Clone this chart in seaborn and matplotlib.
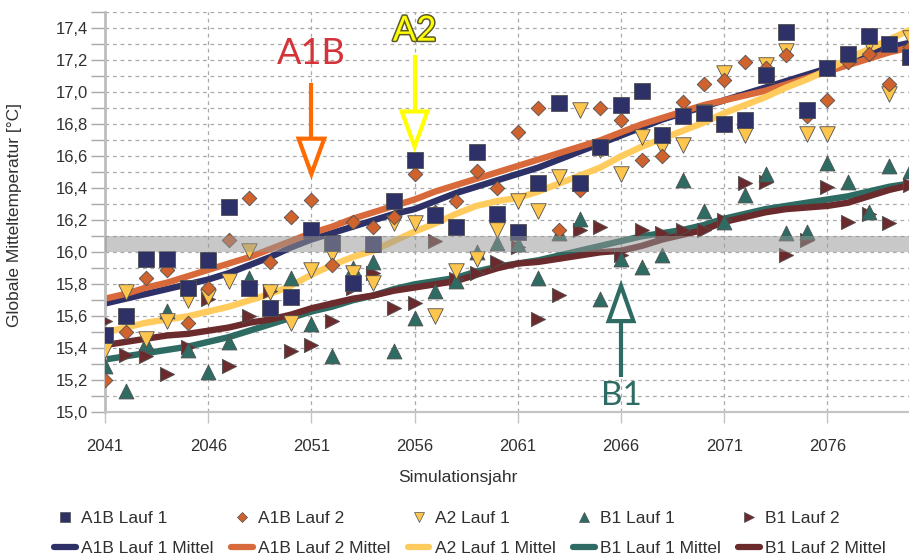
import numpy as np
import matplotlib
matplotlib.use("Agg")
import matplotlib.pyplot as plt
import matplotlib.patheffects as pe
from matplotlib.lines import Line2D
from matplotlib.patches import Polygon
from matplotlib.ticker import FixedLocator, FuncFormatter
import seaborn as sns

# ---- data ---------------------------------------------------------------
years = list(range(2041, 2081))

a1b_lauf1 = [15.48, 15.60, 15.96, 15.96, 15.78, 15.95, 16.28, 15.78, 15.65, 15.72,
             16.14, 16.06, 15.81, 16.05, 16.32, 16.58, 16.23, 16.16, 16.63, 16.24,
             16.13, 16.43, 16.93, 16.43, 16.66, 16.92, 17.01, 16.73, 16.85, 16.87,
             16.80, 16.83, 17.11, 17.38, 16.89, 17.15, 17.24, 17.35, 17.30, 17.22]
a1b_lauf2 = [15.20, 15.50, 15.84, 15.89, 15.56, 15.78, 16.08, 16.34, 15.94, 16.22,
             16.33, 15.92, 16.19, 16.16, 16.22, 16.49, 16.25, 16.32, 16.51, 16.40,
             16.75, 16.90, 16.14, 16.39, 16.90, 16.83, 16.58, 16.60, 16.94, 17.05,
             17.08, 17.19, 17.15, 17.23, 16.85, 16.95, 17.19, 17.24, 17.05, 17.28]
a2_lauf1 = [15.39, 15.75, 15.46, 15.57, 15.70, 15.72, 15.82, 16.01, 15.75, 15.56,
            15.89, 15.99, 15.87, 15.81, 16.18, 16.18, 15.60, 15.88, 15.96, 16.14,
            16.32, 16.26, 16.47, 16.89, 16.64, 16.49, 16.72, 16.66, 16.67, 16.88,
            17.12, 16.73, 17.17, 17.26, 16.74, 16.74, 17.20, 17.30, 16.99, 17.34]
b1_lauf1 = [15.29, 15.13, 15.43, 15.63, 15.39, 15.25, 15.44, 15.84, 15.66, 15.84,
            15.55, 15.35, 15.90, 15.94, 15.38, 15.59, 15.76, 15.82, 16.00, 16.06,
            16.05, 15.84, 16.12, 16.21, 15.71, 15.96, 15.91, 15.98, 16.45, 16.26,
            16.19, 16.36, 16.49, 16.12, 16.13, 16.56, 16.44, 16.25, 16.54, 16.51]
b1_lauf2 = [15.57, 15.36, 15.35, 15.24, 15.41, 15.71, 15.29, 15.60, 15.76, 15.38,
            15.42, 15.57, 15.78, 15.87, 15.65, 15.68, 16.07, 15.83, 15.87, 15.94,
            16.03, 15.58, 15.73, 16.14, 16.16, 15.98, 16.14, 16.12, 16.14, 16.14,
            16.20, 16.43, 16.44, 15.98, 16.08, 16.41, 16.19, 16.24, 16.18, 16.42]

a1b_lauf1_mittel = [15.68, 15.71, 15.74, 15.77, 15.80, 15.83, 15.87, 15.92, 15.97, 16.03,
                    16.08, 16.12, 16.16, 16.20, 16.24, 16.27, 16.32, 16.37, 16.41, 16.45,
                    16.49, 16.53, 16.58, 16.63, 16.68, 16.73, 16.78, 16.83, 16.87, 16.91,
                    16.95, 16.99, 17.03, 17.07, 17.11, 17.15, 17.20, 17.24, 17.28, 17.31]
a1b_lauf2_mittel = [15.71, 15.74, 15.78, 15.81, 15.85, 15.89, 15.93, 15.97, 16.02, 16.07,
                    16.12, 16.16, 16.21, 16.25, 16.29, 16.33, 16.38, 16.42, 16.46, 16.50,
                    16.54, 16.58, 16.62, 16.66, 16.70, 16.75, 16.80, 16.84, 16.88, 16.92,
                    16.95, 16.98, 17.01, 17.05, 17.09, 17.13, 17.17, 17.21, 17.25, 17.28]
a2_lauf1_mittel = [15.50, 15.53, 15.56, 15.58, 15.60, 15.63, 15.66, 15.70, 15.74, 15.79,
                   15.86, 15.92, 15.97, 16.01, 16.07, 16.13, 16.18, 16.24, 16.29, 16.32,
                   16.34, 16.38, 16.43, 16.48, 16.53, 16.60, 16.66, 16.71, 16.76, 16.81,
                   16.87, 16.92, 16.97, 17.03, 17.08, 17.14, 17.21, 17.27, 17.33, 17.39]
b1_lauf1_mittel = [15.33, 15.35, 15.37, 15.39, 15.41, 15.44, 15.47, 15.51, 15.55, 15.59,
                   15.63, 15.66, 15.70, 15.73, 15.77, 15.80, 15.82, 15.84, 15.88, 15.91,
                   15.93, 15.95, 15.98, 16.01, 16.04, 16.07, 16.10, 16.12, 16.14, 16.17,
                   16.21, 16.24, 16.27, 16.29, 16.31, 16.33, 16.35, 16.38, 16.41, 16.43]
b1_lauf2_mittel = [15.42, 15.44, 15.46, 15.48, 15.49, 15.51, 15.53, 15.56, 15.58, 15.61,
                   15.65, 15.68, 15.71, 15.73, 15.76, 15.78, 15.80, 15.82, 15.86, 15.90,
                   15.93, 15.94, 15.96, 15.98, 16.00, 16.01, 16.04, 16.08, 16.11, 16.14,
                   16.19, 16.22, 16.25, 16.27, 16.28, 16.29, 16.31, 16.35, 16.39, 16.42]

x_ticks = [2041, 2046, 2051, 2056, 2061, 2066, 2071, 2076]
band_range = (16.0, 16.1)

# ---- styling ------------------------------------------------------------
sns.set_theme(style="white")
plt.rcParams["font.family"] = ["Liberation Sans", "DejaVu Sans"]

C_NAVY = "#2E3068"
C_ORANGE = "#D0622E"
C_ORANGE_LINE = "#D8693A"
C_YELLOW = "#FFC64E"
C_YELLOW_LINE = "#FFCB5C"
C_TEAL = "#2D6B63"
C_MAROON = "#6B2A2C"
EDGE = "#505050"

fig = plt.figure(figsize=(9.09, 5.56), dpi=100)
ax = fig.add_axes([105 / 909, 143.7 / 556, 805 / 909, 400 / 556])

# smoothed means
mittel = [
    (a1b_lauf1_mittel, C_NAVY, "A1B Lauf 1 Mittel"),
    (a1b_lauf2_mittel, C_ORANGE_LINE, "A1B Lauf 2 Mittel"),
    (a2_lauf1_mittel, C_YELLOW_LINE, "A2 Lauf 1 Mittel"),
    (b1_lauf1_mittel, C_TEAL, "B1 Lauf 1 Mittel"),
    (b1_lauf2_mittel, C_MAROON, "B1 Lauf 2 Mittel"),
]
draw_order = [4, 3, 2, 1, 0]
for i in draw_order:
    vals, col, _ = mittel[i]
    sns.lineplot(x=years, y=vals, color=col, lw=4.6, ax=ax, zorder=2 + 0.01 * i,
                 legend=False, solid_capstyle="butt")

# yearly values of the individual runs
runs = [
    (a1b_lauf1, "s", 130, C_NAVY, "A1B Lauf 1"),
    (a1b_lauf2, "D", 55, C_ORANGE, "A1B Lauf 2"),
    (a2_lauf1, "v", 125, C_YELLOW, "A2 Lauf 1"),
    (b1_lauf1, "^", 115, C_TEAL, "B1 Lauf 1"),
    (b1_lauf2, ">", 105, C_MAROON, "B1 Lauf 2"),
]
for k, (vals, mk, sz, col, _) in enumerate(runs):
    sns.scatterplot(x=years, y=vals, marker=mk, s=sz, color=col, edgecolor=EDGE,
                    linewidth=0.6, ax=ax, zorder=3 + 0.01 * (4 - k), legend=False)

# translucent reference band
ax.axhspan(band_range[0], band_range[1], color="#969696", alpha=0.52, lw=0, zorder=6)

# ---- axes ---------------------------------------------------------------
ax.set_xlim(2041, 2080)
ax.set_ylim(15.0, 17.5)

y_all = [round(15.0 + 0.1 * i, 1) for i in range(26)]
ax.yaxis.set_major_locator(FixedLocator(y_all))
ax.yaxis.set_major_formatter(FuncFormatter(
    lambda v, p: (f"{v:.1f}".replace(".", ",") if round(v * 10) % 2 == 0 else "")))
ax.set_xticks(x_ticks)
ax.set_xticklabels([str(t) for t in x_ticks])

grid_kw = dict(color="#A9A9A9", linestyle=(0, (3, 3)), linewidth=0.9)
ax.grid(True, axis="both", **grid_kw)
ax.set_axisbelow(True)

for s in ["top", "right"]:
    ax.spines[s].set_visible(False)
ax.spines["left"].set_color("#BDBDBD")
ax.spines["left"].set_linewidth(2.0)
ax.spines["bottom"].set_color("#C4C4C4")
ax.spines["bottom"].set_linewidth(1.6)

ax.tick_params(axis="y", which="major", length=10, width=1.0, color="#A8A8A8",
               labelsize=12, labelcolor="#303030", pad=2, left=True)
ax.tick_params(axis="x", which="major", length=8, width=1.0, color="#C4C4C4",
               labelsize=12, labelcolor="#303030", pad=11, bottom=True)

ax.set_ylabel("Globale Mitteltemperatur [°C]", fontsize=12.5, color="#303030")
ax.set_xlabel("Simulationsjahr", fontsize=12.5, color="#303030")
ax.yaxis.set_label_coords(-0.103, 0.493)
ax.xaxis.set_label_coords((458 - 105) / 805, -0.145)


# ---- scenario arrows ----------------------------------------------------
def scenario_arrow(x, y_tail, y_base, y_tip, half_w, color, lw):
    ax.plot([x, x], [y_tail, y_base], color=color, lw=lw, solid_capstyle="butt",
            zorder=8, clip_on=False)
    head = Polygon([[x - half_w, y_base], [x + half_w, y_base], [x, y_tip]],
                   closed=True, facecolor="white", edgecolor=color, lw=lw,
                   joinstyle="miter", zorder=8, clip_on=False)
    ax.add_patch(head)


scenario_arrow(2051, 17.06, 16.71, 16.49, 0.62, "#FF6A00", 3.0)
ax.text(2051, 17.24, "A1B", color="#D3343A", fontsize=26, family=["Lato", "DejaVu Sans"],
        ha="center", va="center", zorder=9)

scenario_arrow(2056, 17.23, 16.88, 16.66, 0.62, "#FFFF00", 3.0)
ax.text(2056, 17.385, "A2", color="#FFFF00", fontsize=25, family=["Lato", "DejaVu Sans"],
        ha="center", va="center", zorder=9,
        path_effects=[pe.withStroke(linewidth=2.2, foreground="#5A5A2A")])

scenario_arrow(2066, 15.22, 15.57, 15.79, 0.6, C_TEAL, 3.0)
ax.text(2066, 15.10, "B1", color=C_TEAL, fontsize=24, family=["Lato", "DejaVu Sans"],
        ha="center", va="center", zorder=9)

# ---- legend -------------------------------------------------------------
handles, labels = [], []
for (vals, mk, sz, col, lab), (mv, mcol, mlab) in zip(runs, mittel):
    handles.append(Line2D([], [], ls="", marker=mk, markersize=7.5 if mk != "D" else 5.5,
                          markerfacecolor=col, markeredgecolor=EDGE, markeredgewidth=0.5))
    labels.append(lab)
    handles.append(Line2D([], [], color=mcol, lw=4.5))
    labels.append(mlab)

fig.legend(handles, labels, ncol=5, loc="center", bbox_to_anchor=(470 / 909, 0.040),
           frameon=False, fontsize=12.5, handlelength=1.25, handletextpad=0.3,
           columnspacing=1.0, labelspacing=0.85, labelcolor="#303030")

fig.savefig("out.png", dpi=100)
